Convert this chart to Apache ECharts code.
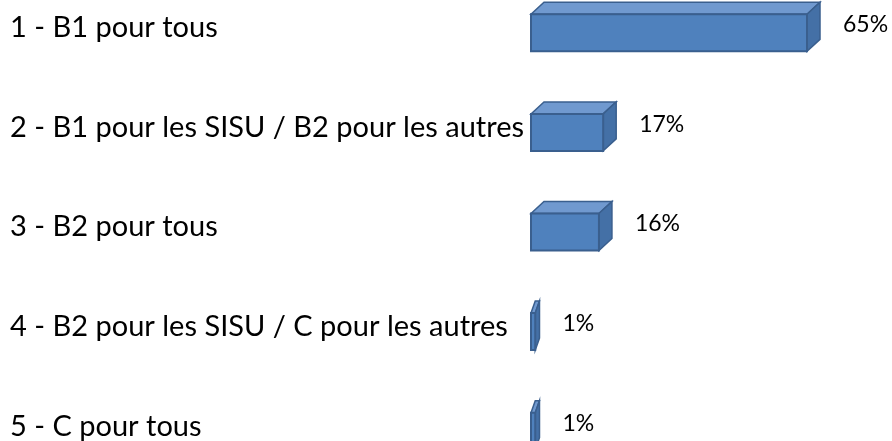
<!DOCTYPE html>
<html>
<head>
<meta charset="utf-8">
<style>
  html, body { margin: 0; padding: 0; background: #fff; }
  #wrap { width: 892px; height: 441px; overflow: hidden; position: relative; }
  #main { width: 892px; height: 498px; position: absolute; left: 0; top: -17px; }
</style>
<script src="https://cdn.jsdelivr.net/npm/echarts@6/dist/echarts.min.js"></script>
</head>
<body>
<div id="wrap"><div id="main"></div></div>
<script>
var categories = [
  "1 - B1 pour tous",
  "2 - B1 pour les SISU / B2 pour les autres",
  "3 - B2 pour tous",
  "4 - B2 pour les SISU / C pour les autres",
  "5 - C pour tous"
];
var values = [65, 17, 16, 1, 1];
var valueLabels = ["65%", "17%", "16%", "1%", "1%"];

var myChart = echarts.init(document.getElementById("main"));

// draws a box: front face, top face and right side
function renderBox(params, api) {
  var idx = api.value(0);
  var val = api.value(1);
  var start = api.coord([0, idx]);
  var end = api.coord([val, idx]);
  var barH = 37;
  var w = end[0] - start[0];
  var dx = Math.min(13, w);
  var dy = 12;
  var x0 = start[0], x1 = end[0];
  var yTop = start[1] - barH / 2, yBot = start[1] + barH / 2;
  var edge = "#3A5F8E";
  return {
    type: "group",
    children: [
      {
        type: "polygon",
        shape: { points: [[x0, yTop], [x1, yTop], [x1 + dx, yTop - dy], [x0 + dx, yTop - dy]] },
        style: { fill: "#7099CF", stroke: edge, lineWidth: 1.5 }
      },
      {
        type: "polygon",
        shape: { points: [[x1, yTop], [x1 + dx, yTop - dy], [x1 + dx, yBot - dy], [x1, yBot]] },
        style: { fill: "#4470A6", stroke: edge, lineWidth: 1.5 }
      },
      {
        type: "rect",
        shape: { x: x0, y: yTop, width: w, height: barH },
        style: { fill: "#4F81BD", stroke: edge, lineWidth: 2 }
      },
      {
        type: "text",
        x: x1 + dx + 23,
        y: start[1] - 8,
        style: {
          text: valueLabels[idx],
          fill: "#000",
          font: "23px Lato, sans-serif",
          verticalAlign: "middle",
          align: "left"
        }
      }
    ]
  };
}

myChart.setOption({
  animation: false,
  grid: {
    left: 531,
    right: 85,
    top: 0,
    bottom: 0,
    containLabel: false
  },
  xAxis: {
    type: "value",
    min: 0,
    max: 65,
    show: false
  },
  yAxis: {
    type: "category",
    inverse: true,
    data: categories,
    axisLine: { show: false },
    axisTick: { show: false },
    splitLine: { show: false },
    axisLabel: {
      align: "left",
      verticalAlign: "bottom",
      lineHeight: 10,
      margin: 521,
      color: "#000",
      fontSize: 29,
      fontFamily: "Lato, sans-serif"
    }
  },
  series: [
    {
      type: "custom",
      renderItem: renderBox,
      encode: { x: 1, y: 0 },
      data: values.map(function (v, i) { return [i, v]; })
    }
  ]
});
</script>
</body>
</html>
